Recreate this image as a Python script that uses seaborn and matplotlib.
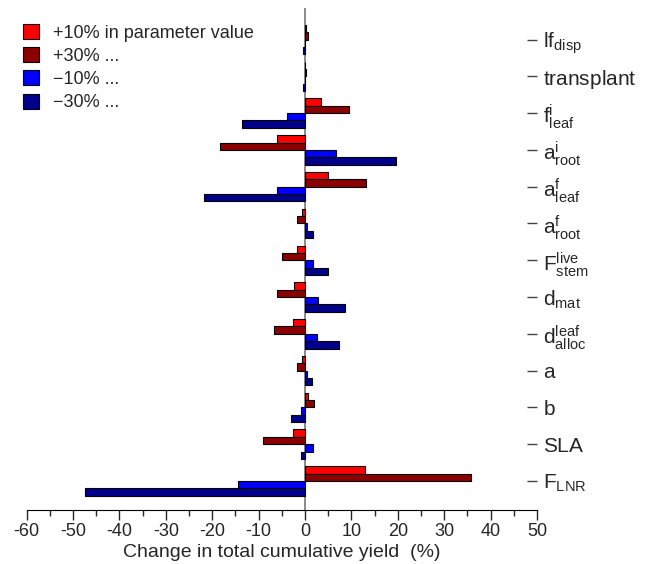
import matplotlib
matplotlib.use("Agg")
import matplotlib.pyplot as plt
import pandas as pd
import seaborn as sns
from matplotlib.ticker import MultipleLocator

params = [
    r"$\mathrm{lf_{disp}}$", r"$\mathrm{transplant}$", r"$\mathrm{f^{i}_{leaf}}$",
    r"$\mathrm{a^{i}_{root}}$", r"$\mathrm{a^{f}_{leaf}}$", r"$\mathrm{a^{f}_{root}}$",
    r"$\mathrm{F^{live}_{stem}}$", r"$\mathrm{d_{mat}}$", r"$\mathrm{d^{leaf}_{alloc}}$",
    r"$\mathrm{a}$", r"$\mathrm{b}$", r"$\mathrm{SLA}$", r"$\mathrm{F_{LNR}}$",
]
plus10 = [0.3, 0.0, 3.5, -6.0, 4.9, -0.6, -1.7, -2.4, -2.5, -0.6, 0.7, -2.7, 13.0]
plus30 = [0.6, 0.1, 9.5, -18.3, 13.1, -1.7, -4.9, -6.0, -6.6, -1.8, 2.0, -9.0, 35.8]
minus10 = [-0.1, 0.0, -4.0, 6.6, -6.0, 0.5, 1.6, 2.7, 2.5, 0.5, -0.9, 1.6, -14.5]
minus30 = [-0.5, -0.5, -13.7, 19.6, -21.7, 1.6, 5.0, 8.5, 7.4, 1.5, -3.0, -0.9, -47.4]
series = ["+10% in parameter value", "+30% ...", "\u221210% ...", "\u221230% ..."]
colors = ["#ff0000", "#8b0000", "#0000ff", "#00008b"]

rows = []
for name, vals in zip(series, [plus10, plus30, minus10, minus30]):
    for p, v in zip(params, vals):
        rows.append({"param": p, "value": v, "series": name})
df = pd.DataFrame(rows)

sns.set_style("white")
plt.rcParams["font.family"] = ["Liberation Sans", "DejaVu Sans"]
plt.rcParams["mathtext.fontset"] = "custom"
plt.rcParams["mathtext.rm"] = "Liberation Sans"
plt.rcParams["axes.unicode_minus"] = False

fig = plt.figure(figsize=(6.51, 5.64), dpi=100)
ax = fig.add_axes([0.041, 0.095, 0.784, 0.891])
sns.barplot(data=df, y="param", x="value", hue="series", order=params,
            hue_order=series, palette=colors, orient="h", width=0.8,
            edgecolor="black", linewidth=0.8, saturation=1, ax=ax)

ax.axvline(0, color="#777777", linewidth=1.2, zorder=0)
ax.set_xlim(-60, 50)
ax.set_ylim(12.8, -0.86)
ax.xaxis.set_major_locator(MultipleLocator(10))
ax.xaxis.set_minor_locator(MultipleLocator(5))
ax.tick_params(axis="x", which="major", length=7, width=1, labelsize=13, direction="out",
               bottom=True, pad=2)
ax.tick_params(axis="x", which="minor", length=4, width=1, direction="out", bottom=True)
ax.yaxis.tick_right()
ax.tick_params(axis="y", length=7, width=1, labelsize=15, direction="in", right=True, pad=4,
               color="#444444")
for s in ["top", "left", "right"]:
    ax.spines[s].set_visible(False)
ax.spines["bottom"].set_color("black")
ax.set_xlabel("Change in total cumulative yield  (%)", fontsize=14, labelpad=3)
ax.set_ylabel("")

handles, labels = ax.get_legend_handles_labels()
ax.legend(handles, labels, loc="upper left", bbox_to_anchor=(-0.04, 1.0), frameon=False,
          fontsize=13, handlelength=0.9, handleheight=0.9, handletextpad=0.8,
          labelspacing=0.3)

fig.savefig("out.png", dpi=100)
